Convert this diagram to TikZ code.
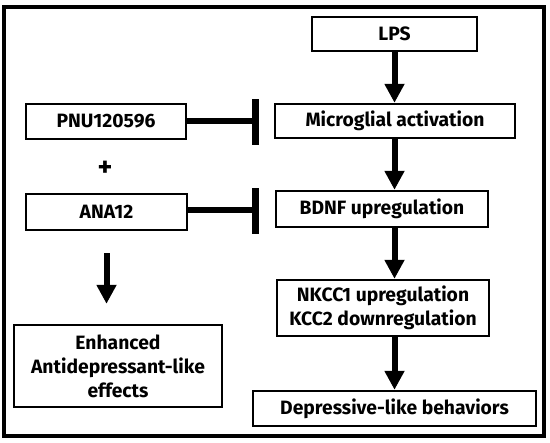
\documentclass[tikz,border=0pt]{standalone}
\usepackage{fontspec}
\setmainfont{Fira Sans}
\usetikzlibrary{arrows.meta}
\begin{document}
\begin{tikzpicture}[x=1pt,y=-1pt,
  box/.style={draw=black,line width=2.4pt,fill=white,inner sep=0pt,align=center,
    font=\bfseries\fontsize{19.3}{24}\selectfont},
  arr/.style={line width=6pt,-{Triangle[width=19pt,length=19pt]}},
  inh/.style={line width=6pt},
  barstyle/.style={line width=7.5pt}]
\useasboundingbox (0,0) rectangle (550,443);
\draw[line width=3.2pt] (4,7) rectangle (544,436);
\node[box,minimum width=165pt,minimum height=34pt] (lps) at (394.5,34) {LPS};
\node[box,minimum width=240pt,minimum height=34pt] (mic) at (395,121) {Microglial activation};
\node[box,minimum width=160pt,minimum height=35pt] (pnu) at (106,121.5) {PNU120596};
\node[font=\bfseries\fontsize{28}{30}\selectfont] (plus) at (105,169) {+};
\node[box,minimum width=161pt,minimum height=36pt] (ana) at (106.5,212) {ANA12};
\node[box,minimum width=212pt,minimum height=36pt] (bdnf) at (382,209) {BDNF upregulation};
\node[box,minimum width=212pt,minimum height=56pt] (nkcc) at (383,308) {NKCC1 upregulation\\KCC2 downregulation};
\node[box,minimum width=208pt,minimum height=82pt] (enh) at (118,366) {Enhanced\\Antidepressant-like\\effects};
\node[box,minimum width=283pt,minimum height=35pt] (dep) at (394.5,408.5) {Depressive-like behaviors};
\coordinate (bar1) at (255.5,121.5);
\coordinate (bar2) at (255.5,210.5);
\draw[inh] (pnu.east) -- (bar1);
\draw[barstyle] ([yshift=-23.5pt]bar1) -- ([yshift=22pt]bar1);
\draw[inh] (ana.east |- bar2) -- (bar2);
\draw[barstyle] ([yshift=-23.5pt]bar2) -- ([yshift=22pt]bar2);
\draw[arr] (lps.south) -- (lps.south |- mic.north);
\draw[arr] (lps.south |- mic.south) -- (lps.south |- bdnf.north);
\draw[arr] (lps.south |- bdnf.south) -- (lps.south |- nkcc.north);
\draw[arr] (lps.south |- nkcc.south) -- (lps.south |- dep.north);
\draw[arr,shorten <=22pt,shorten >=20pt] (ana.south) -- (ana.south |- enh.north);
\end{tikzpicture}
\end{document}
